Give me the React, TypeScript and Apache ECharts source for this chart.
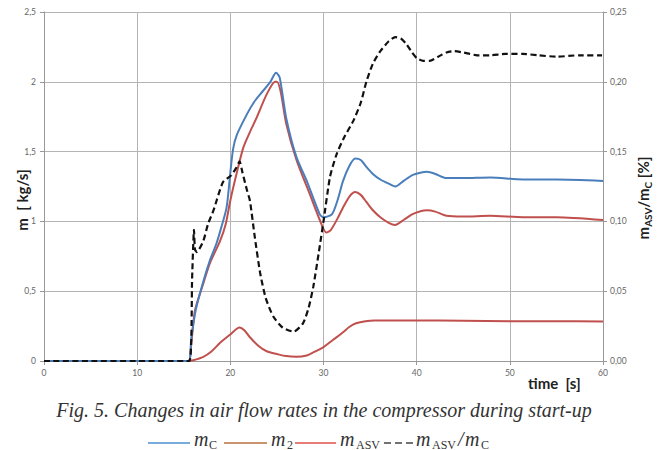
import React, { useEffect, useRef } from "react";
import * as echarts from "echarts";

// m_C [kg/s]
const mcTime = [0, 15.5, 15.8, 16.3, 17.1, 17.8, 18.5, 19.0, 19.6, 20.0, 20.3, 20.7, 21.8, 22.5, 23.2, 24.3, 24.9, 25.3, 26.0, 27.1, 28.2, 29.6, 30.0, 30.9, 31.5, 32.1, 32.8, 33.4, 34.0, 34.6, 35.3, 36.1, 37.0, 37.7, 38.6, 39.5, 40.5, 41.1, 42.0, 43.2, 45, 47.9, 51.4, 55, 60];
const mcValues = [0, 0, 0.16, 0.37, 0.57, 0.72, 0.84, 0.95, 1.1, 1.35, 1.52, 1.62, 1.77, 1.85, 1.91, 2.0, 2.065, 2.03, 1.74, 1.46, 1.29, 1.05, 1.03, 1.05, 1.15, 1.29, 1.4, 1.45, 1.44, 1.39, 1.34, 1.3, 1.27, 1.25, 1.29, 1.33, 1.35, 1.355, 1.34, 1.31, 1.31, 1.315, 1.3, 1.3, 1.29];

// m_2 [kg/s]
const m2Time = [0, 15.5, 15.8, 16.2, 17.1, 17.8, 18.9, 19.5, 20.0, 20.7, 21.4, 22.1, 22.8, 23.9, 24.8, 25.0, 25.4, 26.0, 27.1, 28.5, 29.6, 30.3, 30.8, 31.5, 32.1, 32.8, 33.4, 34.0, 34.6, 35.3, 36.1, 37.0, 37.7, 38.6, 39.5, 40.5, 41.1, 42.0, 43.2, 45, 47.9, 51.4, 55, 60];
const m2Values = [0, 0, 0.12, 0.36, 0.555, 0.7, 0.86, 0.98, 1.15, 1.35, 1.53, 1.64, 1.74, 1.91, 2.0, 2.0, 1.93, 1.7, 1.44, 1.2, 1.01, 0.92, 0.94, 1.02, 1.1, 1.18, 1.21, 1.19, 1.14, 1.08, 1.03, 0.99, 0.975, 1.01, 1.05, 1.075, 1.08, 1.07, 1.04, 1.035, 1.04, 1.03, 1.03, 1.01];

// m_ASV [kg/s]
const masvTime = [0, 15.5, 16.0, 17.1, 18.0, 18.9, 20.0, 21.0, 21.5, 22.1, 23.0, 23.9, 25.0, 26.0, 27.1, 28.2, 29.0, 30.0, 31.0, 32.0, 32.8, 33.5, 34.5, 35.5, 40, 45, 50, 55, 60];
const masvValues = [0, 0, 0.005, 0.03, 0.07, 0.13, 0.19, 0.24, 0.22, 0.17, 0.11, 0.07, 0.05, 0.035, 0.03, 0.04, 0.065, 0.1, 0.15, 0.2, 0.245, 0.27, 0.285, 0.29, 0.29, 0.288, 0.285, 0.285, 0.283];

// m_ASV / m_C (right axis)
const ratioTime = [0, 15.6, 15.9, 16.1, 16.2, 16.4, 17.1, 17.6, 18.2, 19.2, 20.1, 20.6, 21.0, 21.3, 21.8, 22.1, 22.6, 23.2, 23.8, 24.6, 25.6, 26.8, 27.8, 28.4, 28.9, 29.5, 30.0, 30.7, 31.4, 32.2, 33.2, 34.0, 34.6, 35.3, 36.1, 37.0, 37.7, 38.3, 38.9, 39.5, 40.0, 40.7, 41.4, 42.3, 43.2, 44.0, 45.0, 46.5, 47.9, 49.5, 51.4, 53, 55.0, 57.5, 59.9];
const ratioValues = [0, 0, 0.06, 0.094, 0.08, 0.078, 0.086, 0.098, 0.108, 0.128, 0.133, 0.138, 0.143, 0.135, 0.122, 0.115, 0.09, 0.063, 0.045, 0.032, 0.024, 0.021, 0.027, 0.038, 0.053, 0.078, 0.1, 0.132, 0.148, 0.16, 0.172, 0.185, 0.2, 0.213, 0.222, 0.229, 0.232, 0.231, 0.227, 0.221, 0.217, 0.215, 0.215, 0.218, 0.221, 0.222, 0.221, 0.219, 0.219, 0.22, 0.22, 0.219, 0.218, 0.219, 0.219];

const xTicks = { min: 0, max: 60, interval: 10 };
const leftTicks = { min: 0, max: 2.5, interval: 0.5 };
const rightTicks = { min: 0, max: 0.25, interval: 0.05 };

const pair = (t: number[], v: number[]) => t.map((x, i) => [x, v[i]]);

const BLUE = "#4a7ebb";
const RED = "#c0504d";
const GRID = "#b4b4b4";
const LBL = "#666";
const SANS = "Lato, 'Open Sans', sans-serif";
const SERIF = "'Liberation Serif', 'DejaVu Serif', serif";

export default function App() {
  const ref = useRef<HTMLDivElement>(null);
  useEffect(() => {
    const chart = echarts.init(ref.current!, null, { renderer: "svg" });
    const lblStyle = { fontSize: 8.5, color: LBL, fontFamily: SANS };
    const legendY = 439;
    const subY = 444.5;
    const mFont = { fontSize: 20, fontStyle: "italic", fontFamily: SERIF, fill: "#333" };
    const sFont = { fontSize: 12, fontFamily: SERIF, fill: "#333" };
    const txt = (x: number, y: number, text: string, st: any) => ({
      type: "text", x, y, style: { text, verticalAlign: "middle", align: "left", ...st },
    });
    const ln = (x1: number, x2: number, color: string, dash?: number[]) => ({
      type: "line", shape: { x1, y1: 443, x2, y2: 443 },
      style: { stroke: color, lineWidth: 1.5, lineDash: dash },
    });
    chart.setOption({
      animation: false,
      backgroundColor: "#fff",
      grid: { left: 44, right: 54, top: 12, bottom: 89 },
      xAxis: {
        type: "value", ...xTicks,
        axisLine: { show: true, lineStyle: { color: "#999" } },
        axisTick: { show: true, length: 4, lineStyle: { color: "#999" } },
        axisLabel: { ...lblStyle, margin: 7 },
        splitLine: { show: true, lineStyle: { color: GRID, width: 1 } },
      },
      yAxis: [
        {
          type: "value", ...leftTicks,
          axisLine: { show: true, lineStyle: { color: "#999" } },
          axisTick: { show: true, length: 4, lineStyle: { color: "#999" } },
          axisLabel: { ...lblStyle, margin: 8, formatter: (v: number) => String(v).replace(".", ",") },
          splitLine: { show: true, lineStyle: { color: GRID, width: 1 } },
        },
        {
          type: "value", position: "right", ...rightTicks,
          axisLine: { show: true, lineStyle: { color: "#999" } },
          axisTick: { show: true, length: 4, lineStyle: { color: "#999" } },
          axisLabel: { ...lblStyle, margin: 7, formatter: (v: number) => v.toFixed(2).replace(".", ",") },
          splitLine: { show: false },
        },
      ],
      series: [
        { name: "m_ASV", type: "line", data: pair(masvTime, masvValues), showSymbol: false, smooth: 0.3, lineStyle: { color: RED, width: 2 } },
        { name: "m_2", type: "line", data: pair(m2Time, m2Values), showSymbol: false, smooth: 0.25, lineStyle: { color: RED, width: 2 } },
        { name: "m_C", type: "line", data: pair(mcTime, mcValues), showSymbol: false, smooth: 0.25, lineStyle: { color: BLUE, width: 2 } },
        { name: "m_ASV/m_C", type: "line", yAxisIndex: 1, data: pair(ratioTime, ratioValues), showSymbol: false, smooth: 0.2, lineStyle: { color: "#111", width: 2.2, type: [6, 3.5] } },
      ],
      graphic: [
        {
          type: "text", x: 22, y: 200, rotation: Math.PI / 2,
          style: { text: "m  [ kg/s]", fontSize: 15, fontWeight: "bold", fontFamily: SANS, fill: "#222", align: "center", verticalAlign: "middle" },
        },
        {
          type: "text", x: 643, y: 198, rotation: Math.PI / 2,
          style: {
            text: "{a|m}{s|ASV}{a|/m}{s|C}{a| [%]}", align: "center", verticalAlign: "middle",
            rich: {
              a: { fontSize: 15, fontWeight: "bold", fontFamily: SANS, fill: "#222", lineHeight: 20, verticalAlign: "middle" },
              s: { fontSize: 10, fontWeight: "bold", fontFamily: SANS, fill: "#222", lineHeight: 8, verticalAlign: "bottom" },
            },
          },
        },
        {
          type: "text", x: 528, y: 383,
          style: { text: "time  [s]", fontSize: 15, fontWeight: "bold", fontFamily: SANS, fill: "#222", align: "left", verticalAlign: "middle" },
        },
        {
          type: "text", x: 324, y: 410,
          style: { text: "Fig. 5. Changes in air flow rates in the compressor during start-up", fontSize: 20, fontStyle: "italic", fontFamily: SERIF, fill: "#333", align: "center", verticalAlign: "middle" },
        },
        ln(148, 190, "#4a90d0"),
        txt(194, legendY, "m", mFont),
        txt(209, subY, "C", sFont),
        ln(224, 267, "#b4713d"),
        txt(271, legendY, "m", mFont),
        txt(287, subY, "2", sFont),
        ln(295, 336, "#e0504d"),
        txt(340, legendY, "m", mFont),
        txt(356, subY, "ASV", sFont),
        ln(384, 413, "#444", [7, 4]),
        txt(416, legendY, "m", mFont),
        txt(432, subY, "ASV", sFont),
        txt(458, legendY, "/", mFont),
        txt(465, legendY, "m", mFont),
        txt(481, subY, "C", sFont),
      ],
    });
    return () => chart.dispose();
  }, []);
  return <div ref={ref} style={{ position: "fixed", left: 0, top: 0, width: 657, height: 450 }} />;
}
